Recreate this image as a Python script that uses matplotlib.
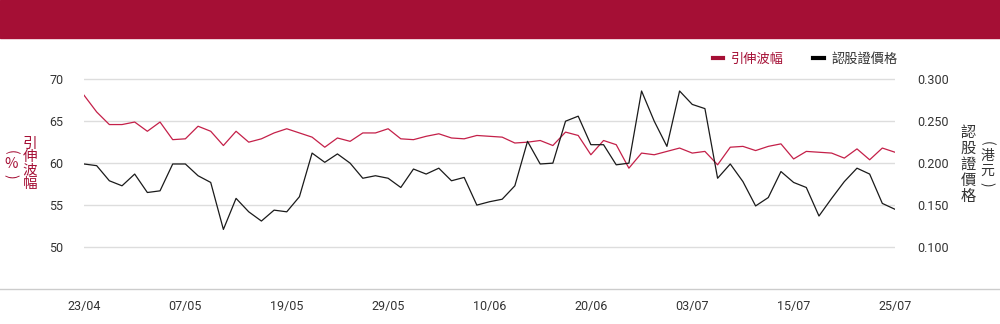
import numpy as np
import matplotlib
matplotlib.use("Agg")
import matplotlib.pyplot as plt
from matplotlib.patches import Rectangle
from matplotlib.lines import Line2D

plt.rcParams['font.family'] = ['Roboto', 'Noto Sans CJK TC', 'DejaVu Sans']

# implied volatility (%) - left axis
iv = [68.1, 66.1, 64.6, 64.6, 64.9, 63.8, 64.9, 62.8, 62.9, 64.4,
      63.8, 62.1, 63.8, 62.5, 62.9, 63.6, 64.1, 63.6, 63.1, 61.9,
      63.0, 62.6, 63.6, 63.6, 64.1, 62.9, 62.8, 63.2, 63.5, 63.0,
      62.9, 63.3, 63.2, 63.1, 62.4, 62.5, 62.7, 62.1, 63.7, 63.3,
      61.0, 62.7, 62.2, 59.4, 61.2, 61.0, 61.4, 61.8, 61.2, 61.4,
      59.8, 61.9, 62.0, 61.5, 62.0, 62.3, 60.5, 61.4, 61.3, 61.2,
      60.6, 61.7, 60.4, 61.8, 61.3]

# warrant price (HKD) - right axis
price = [0.199, 0.197, 0.179, 0.173, 0.187, 0.165, 0.167, 0.199, 0.199, 0.185,
         0.177, 0.121, 0.158, 0.142, 0.131, 0.144, 0.142, 0.160, 0.212, 0.201,
         0.211, 0.200, 0.182, 0.185, 0.182, 0.171, 0.193, 0.187, 0.194, 0.179,
         0.183, 0.150, 0.154, 0.157, 0.173, 0.226, 0.199, 0.200, 0.250, 0.256,
         0.222, 0.222, 0.198, 0.200, 0.286, 0.250, 0.220, 0.286, 0.270, 0.265,
         0.182, 0.199, 0.178, 0.149, 0.159, 0.190, 0.177, 0.171, 0.137, 0.158,
         0.178, 0.194, 0.187, 0.152, 0.145]

date_labels = ['23/04', '07/05', '19/05', '29/05', '10/06', '20/06', '03/07', '15/07', '25/07']
left_ticks = [50, 55, 60, 65, 70]
right_ticks = [0.100, 0.150, 0.200, 0.250, 0.300]

red = '#A50F35'
red_line = '#C42049'
txt = '#333333'
cjk = ['Noto Sans CJK TC', 'DejaVu Sans']

W, H = 1000, 324
fig = plt.figure(figsize=(W / 100, H / 100), dpi=100)
fig.patches.append(Rectangle((0, 1 - 38 / H), 1, 38 / H, transform=fig.transFigure,
                             color=red, zorder=0))
fig.add_artist(Line2D([0, 1], [35 / H, 35 / H], color='#cccccc', lw=1))

ax = fig.add_axes([84 / W, 35 / H, 811 / W, 251.7 / H])
ax2 = ax.twinx()

x = np.arange(len(iv))
ax.plot(x, iv, color=red_line, lw=0.9)
ax2.plot(x, price, color='#1a1a1a', lw=0.9)

ax.set_xlim(0, len(iv) - 1)
ax.set_ylim(45, 75)
ax2.set_ylim(0.05, 0.35)

ax.set_yticks(left_ticks)
ax.set_yticklabels([str(v) for v in left_ticks])
ax2.set_yticks(right_ticks)
ax2.set_yticklabels(['{:.3f}'.format(v) for v in right_ticks])
ax.set_xticks(np.arange(0, len(iv), 8))
ax.set_xticklabels(date_labels)

ax.grid(axis='y', color='#dddddd', lw=1)
ax.set_axisbelow(True)
for a in (ax, ax2):
    for s in a.spines.values():
        s.set_visible(False)
ax.tick_params(axis='y', length=0, pad=15, labelsize=9, labelcolor=txt)
ax2.tick_params(axis='y', length=0, pad=16, labelsize=9, labelcolor=txt)
ax.tick_params(axis='x', length=0, pad=8, labelsize=9, labelcolor=txt)


def vtext(xp, yp, s, color, size, rot=0):
    fig.text(xp / W, 1 - yp / H, s, ha='center', va='center', color=color,
             fontsize=size, rotation=rot, family=cjk)


# axis titles, written vertically
fig.text(30 / W, 1 - 164 / H, "\n".join("引伸波幅"), ha='center', va='center',
         color=red, fontsize=10.5, linespacing=0.92, family=cjk)
vtext(11, 152, "(", red, 10, -90)
vtext(11, 164, "%", red, 10.5)
vtext(11, 176, ")", red, 10, -90)

fig.text(968 / W, 1 - 164.5 / H, "\n".join("認股證價格"), ha='center', va='center',
         color=txt, fontsize=11, linespacing=0.92, family=cjk)
vtext(987, 143, "(", txt, 10, -90)
vtext(987, 156, "港", txt, 10)
vtext(987, 170.5, "元", txt, 10)
vtext(987, 184, ")", txt, 10, -90)

handles = [Line2D([], [], color=red, lw=3), Line2D([], [], color='black', lw=3)]
leg = fig.legend(handles, ['引伸波幅', '認股證價格'], loc='center right',
                 bbox_to_anchor=(910 / W, 1 - 59 / H), ncol=2, frameon=False,
                 handlelength=0.8, handletextpad=0.6, columnspacing=2.2, fontsize=9.5)
leg.get_texts()[0].set_color(red)
leg.get_texts()[1].set_color(txt)

fig.savefig('out.png', dpi=100)
